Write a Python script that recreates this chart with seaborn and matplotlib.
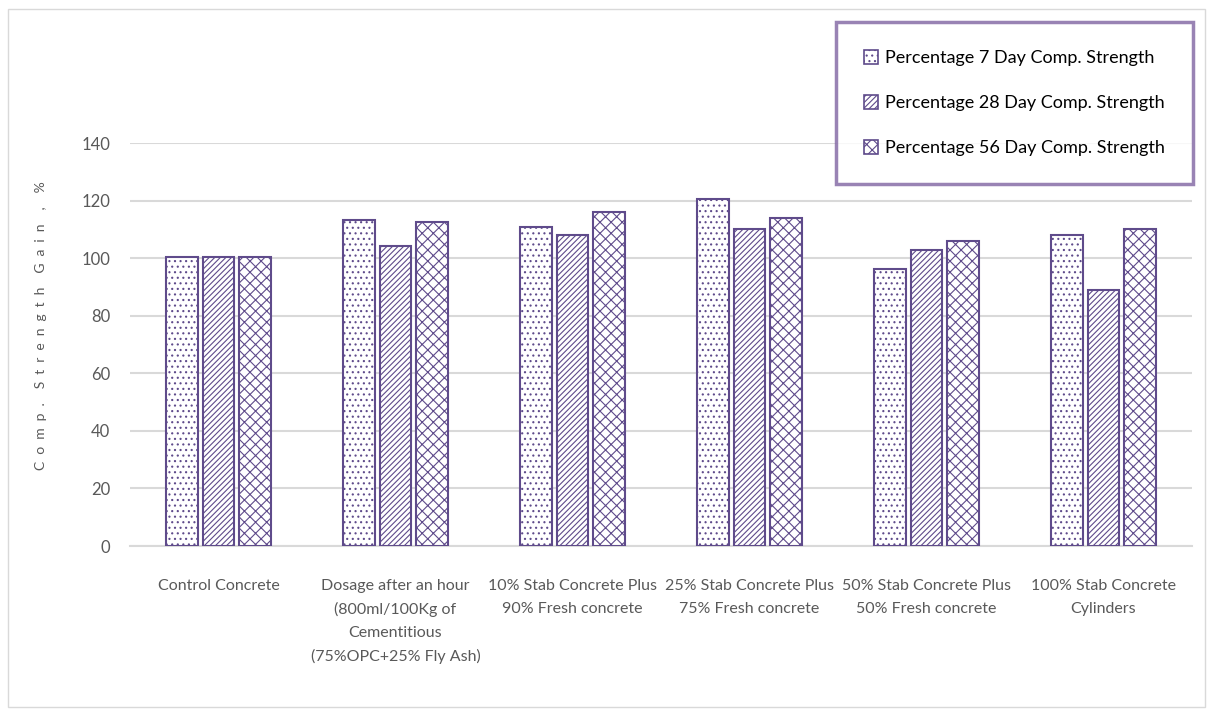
import pandas as pd
import matplotlib.pyplot as plt
import seaborn as sns
from matplotlib.patches import Patch, Rectangle

# data
categories = ["Control Concrete",
              "Dosage after an hour\n(800ml/100Kg of\nCementitious\n(75%OPC+25% Fly Ash)",
              "10% Stab Concrete Plus\n90% Fresh concrete",
              "25% Stab Concrete Plus\n75% Fresh concrete",
              "50% Stab Concrete Plus\n50% Fresh concrete",
              "100% Stab Concrete\nCylinders"]
series = ["Percentage 7 Day Comp. Strength",
          "Percentage 28 Day Comp. Strength",
          "Percentage 56 Day Comp. Strength"]
day7 = [100.5, 113.2, 110.8, 120.5, 96.2, 108.0]
day28 = [100.5, 104.2, 108.0, 110.1, 102.8, 88.9]
day56 = [100.5, 112.5, 116.0, 113.9, 105.9, 110.1]
yticks = [0, 20, 40, 60, 80, 100, 120, 140]
ylabel_words = ["Comp.", "Strength", "Gain", ",", "%"]

edge = "#5F4B8B"
hatches = ["...", "//////", "xxx"]
txt = "#595959"

df = pd.DataFrame({
    "cat": categories * 3,
    "series": [series[0]] * 6 + [series[1]] * 6 + [series[2]] * 6,
    "value": day7 + day28 + day56,
})

sns.set_style("white")
plt.rcParams["font.family"] = ["Lato", "DejaVu Sans"]
plt.rcParams["hatch.linewidth"] = 0.8

fig = plt.figure(figsize=(12.1, 7.09), dpi=100)
ax = fig.add_axes([0.1074, 0.2299, 0.8777, 0.5684])

sns.barplot(data=df, x="cat", y="value", hue="series", order=categories,
            hue_order=series, palette=["white"] * 3, width=0.62, gap=0.14,
            edgecolor=edge, linewidth=1.5, legend=False, ax=ax)

for cont, h in zip(ax.containers, hatches):
    for bar in cont:
        bar.set_hatch(h)
        bar.set_edgecolor(edge)
        bar.set_zorder(3)

ax.set_xlim(-0.5, 5.5)
ax.set_ylim(0, 140)
ax.set_yticks(yticks)
ax.grid(axis="y", color="#D9D9D9", linewidth=1.5, zorder=0)
ax.set_axisbelow(True)
for s in ["top", "right", "left"]:
    ax.spines[s].set_visible(False)
ax.spines["bottom"].set_color("#D9D9D9")
ax.spines["bottom"].set_linewidth(1.5)
ax.tick_params(axis="both", length=0, colors=txt, labelsize=11.5)
ax.tick_params(axis="y", labelsize=12, pad=14)
ax.tick_params(axis="x", pad=24)
for lab in ax.get_xticklabels():
    lab.set_linespacing(1.75)
    lab.set_multialignment("center")
ax.set_xlabel("")
# letter-spaced axis title
sp = "\u2002"
ylabel = (sp * 2).join(sp.join(w) for w in ylabel_words)
ax.set_ylabel(ylabel, color=txt, fontsize=10)
ax.yaxis.set_label_coords(-0.078, 0.548)

handles = [Patch(facecolor="white", edgecolor=edge, hatch=h, linewidth=1.2) for h in hatches]
leg = fig.legend(handles, series, loc="upper right", bbox_to_anchor=(0.986, 0.969),
                 frameon=True, fancybox=False, fontsize=13, labelspacing=1.6,
                 handlelength=0.8, handleheight=0.8, handletextpad=0.4,
                 borderpad=1.55, borderaxespad=0, ncols=1)
leg.get_frame().set_edgecolor("#8064A2")
leg.get_frame().set_linewidth(2.5)
for t in leg.get_texts():
    t.set_color("black")

# outer chart border
fig.patches.append(Rectangle((0.007, 0.003), 0.989, 0.985, transform=fig.transFigure,
                             fill=False, edgecolor="#D9D9D9", linewidth=1))

plt.savefig("out.png", dpi=100)
